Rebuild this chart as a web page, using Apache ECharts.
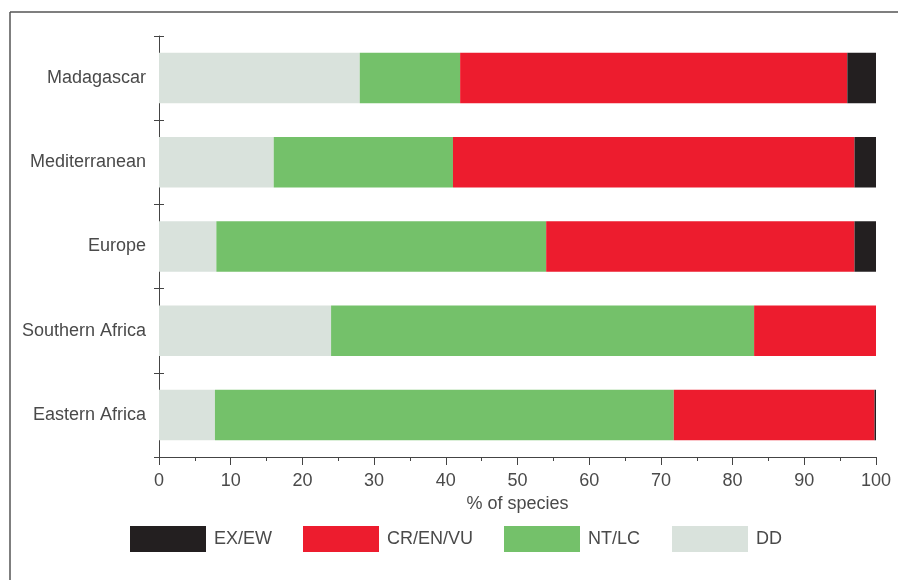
<!DOCTYPE html>
<html>
<head>
<meta charset="utf-8">
<script src="https://cdn.jsdelivr.net/npm/echarts@6/dist/echarts.min.js"></script>
<style>html,body{margin:0;padding:0;background:#fff;}#c{width:898px;height:580px;}</style>
</head>
<body>
<div id="c"></div>
<script>
const categories = ['Madagascar', 'Mediterranean', 'Europe', 'Southern Africa', 'Eastern Africa'];
const ddValues = [28, 16, 8, 24, 7.8];
const ntlcValues = [14, 25, 46, 59, 64];
const crValues = [54, 56, 43, 17, 28];
const exValues = [4, 3, 3, 0, 0.2];
const xTicks = [0, 10, 20, 30, 40, 50, 60, 70, 80, 90, 100];

const FONT = '"Liberation Sans", Arial, Helvetica, sans-serif';
const TXT = '#4a4a4a';
const colors = { ex: '#231f20', cr: '#ed1c2e', nt: '#74c16a', dd: '#d9e2dc' };

const chart = echarts.init(document.getElementById('c'), null, { renderer: 'canvas' });

function legendAt(name, left) {
  return {
    data: [name], left: left, top: 521, itemWidth: 76, itemHeight: 26,
    icon: 'rect', itemStyle: { borderWidth: 0 },
    textStyle: { fontFamily: FONT, fontSize: 18, color: TXT, padding: [0, 0, 0, 3] },
    selectedMode: false
  };
}

function bar(name, data, color) {
  return {
    name: name, type: 'bar', stack: 'total', data: data,
    barCategoryGap: '40%', itemStyle: { color: color }, silent: true
  };
}

chart.setOption({
  animation: false,
  backgroundColor: '#fff',
  grid: { left: 159, right: 22, top: 36, bottom: 123, containLabel: false },
  legend: [
    legendAt('EX/EW', 125),
    legendAt('CR/EN/VU', 298),
    legendAt('NT/LC', 499),
    legendAt('DD', 667)
  ],
  xAxis: {
    type: 'value', min: 0, max: 100, interval: 10,
    name: '% of species', nameLocation: 'middle', nameGap: 37,
    nameTextStyle: { fontFamily: FONT, fontSize: 18, color: TXT },
    axisLine: { show: true, lineStyle: { color: '#444', width: 1 } },
    axisTick: { show: true, length: 8, lineStyle: { color: '#444' } },
    minorTick: { show: true, splitNumber: 2, length: 4, lineStyle: { color: '#444' } },
    splitLine: { show: false },
    axisLabel: {
      fontFamily: FONT, fontSize: 18, color: TXT, margin: 15,
      formatter: function (v) { return xTicks.indexOf(v) >= 0 ? String(v) : ''; }
    }
  },
  yAxis: [{
    type: 'category', data: categories, inverse: true,
    axisLine: { show: true, lineStyle: { color: '#444', width: 1 } },
    axisTick: { show: true, length: 5, lineStyle: { color: '#444' } },
    axisLabel: { fontFamily: FONT, fontSize: 18, color: TXT, margin: 13 }
  }, {
    type: 'category', data: categories, inverse: true, position: 'left',
    axisLine: { show: false },
    axisTick: { show: true, inside: true, length: 5, lineStyle: { color: '#444' } },
    axisLabel: { show: false }
  }],
  series: [
    bar('DD', ddValues, colors.dd),
    bar('NT/LC', ntlcValues, colors.nt),
    bar('CR/EN/VU', crValues, colors.cr),
    bar('EX/EW', exValues, colors.ex)
  ],
  graphic: [
    { type: 'line', shape: { x1: 10, y1: 12, x2: 898, y2: 12 }, style: { stroke: '#555', lineWidth: 1.5 }, silent: true },
    { type: 'line', shape: { x1: 10, y1: 12, x2: 10, y2: 580 }, style: { stroke: '#555', lineWidth: 1.5 }, silent: true }
  ]
});
</script>
</body>
</html>
